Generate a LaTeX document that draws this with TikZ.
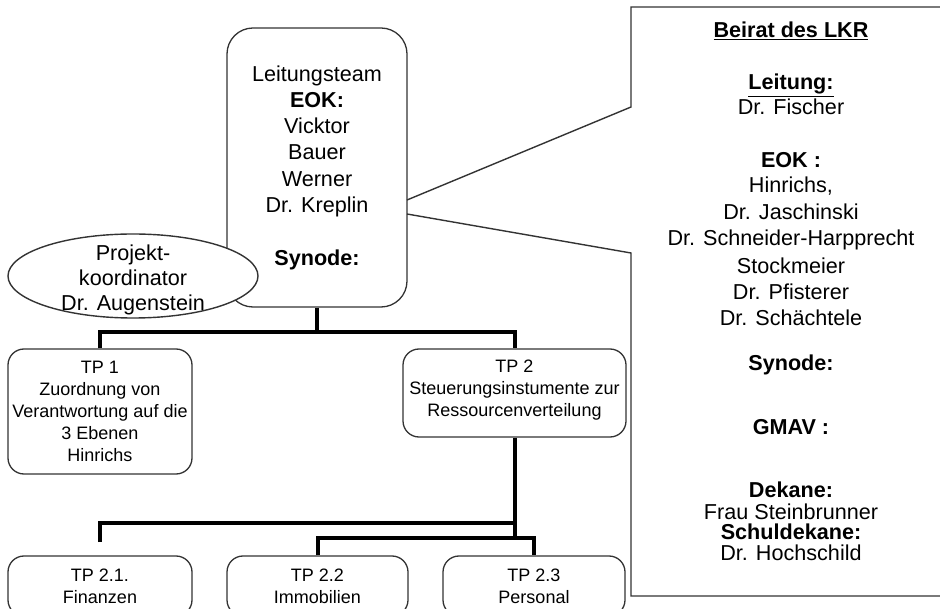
\documentclass[tikz,border=0pt]{standalone}
\usepackage{fontspec}
\setmainfont{Liberation Sans}
\usetikzlibrary{shapes.geometric}
\begin{document}
\begin{tikzpicture}[x=1pt,y=-1pt,
  box/.style={draw=black!80, line width=1.3pt, rounded corners=16pt, align=center,
    inner sep=0pt, fill=white, text=black, font=\fontsize{18pt}{22pt}\selectfont},
  bigtxt/.style={font=\fontsize{21.6pt}{26.3pt}\selectfont, align=center, inner sep=0pt, text=black},
  conn/.style={line width=4pt, draw=black},
  outline/.style={draw=black!80, line width=1.4pt}]
\useasboundingbox (0,0) rectangle (940,609);
\fill[white] (0,0) rectangle (940,609);
\clip (0,0) rectangle (940,609);

% Leitungsteam
\node[box, rounded corners=26pt, minimum width=180pt, minimum height=279pt,
  font=\fontsize{21.6pt}{26.3pt}\selectfont] (lt) at (317,167.5)
  {Leitungsteam\\\textbf{EOK:}\\Vicktor\\Bauer\\Werner\\Dr. Kreplin\\[26.3pt]\textbf{Synode:}};

% Projektkoordinator
\node[ellipse, outline, fill=white, minimum width=250pt, minimum height=84pt, inner sep=0pt] (pkell) at (133,276) {};
\node[bigtxt, font=\fontsize{21.6pt}{25pt}\selectfont] (pk) at (133,280) {Projekt-\\koordinator\\Dr. Augenstein};

% Teilprojekte
\node[box, minimum width=184pt, minimum height=125pt] (tp1) at (100,411.5)
  {TP 1\\Zuordnung von\\Verantwortung auf die\\3 Ebenen\\Hinrichs};
\node[box, minimum width=223pt, minimum height=88pt] (tp2) at (514.5,393)
  {TP 2\\Steuerungsinstumente zur\\Ressourcenverteilung\\[-12pt]\mbox{}};
\node[box, minimum width=184pt, minimum height=60pt] (tp21) at (100,586) {TP 2.1.\\Finanzen};
\node[box, minimum width=181pt, minimum height=60pt] (tp22) at (317.5,586) {TP 2.2\\Immobilien};
\node[box, minimum width=182pt, minimum height=60pt] (tp23) at (534,586) {TP 2.3\\Personal};

% connectors
\coordinate (j1) at (317,332);
\coordinate (j2) at (514.5,523);
\coordinate (j3) at (514.5,538);
\coordinate (e21) at (100,542);
\draw[conn] (lt.south) -- (j1);
\draw[conn] (tp1.north) |- (j1) -| (tp2.north);
\draw[conn] (tp2.south) -- (j3);
\draw[conn] (e21) |- (j2);
\draw[conn] (tp22.north) |- (j3) -| (tp23.north);

% Beirat callout
\coordinate (ca) at (960,7);
\coordinate (cb) at (631,7);
\coordinate (cc) at (631,107);
\coordinate (cd) at (407,200);
\coordinate (ce) at (407,214);
\coordinate (cf) at (631,253);
\coordinate (cg) at (631,596);
\coordinate (ch) at (960,596);
\draw[outline] (ca) -- (cb) -- (cc) -- (cd) (ce) -- (cf) -- (cg) -- (ch);

\foreach \t/\yy [count=\i] in {
  {\textbf{\underline{Beirat des LKR}}}/37.8,
  {\textbf{\underline{Leitung:}}}/89.8,
  {Dr. Fischer}/114.8,
  {\textbf{EOK :}}/167.8,
  {Hinrichs,}/192.8,
  {Dr. Jaschinski}/219.8,
  {Dr. Schneider-Harpprecht}/245.8,
  {Stockmeier}/273.8,
  {Dr. Pfisterer}/299.8,
  {Dr. Schächtele}/325.8,
  {\textbf{Synode:}}/370.8,
  {\textbf{GMAV :}}/434.8,
  {\textbf{Dekane:}}/497.8,
  {Frau Steinbrunner}/519.8,
  {\textbf{Schuldekane:}}/539.8,
  {Dr. Hochschild}/560.8}
  \node[bigtxt, anchor=base] (c\i) at (791,\yy) {\t};
\end{tikzpicture}
\end{document}
